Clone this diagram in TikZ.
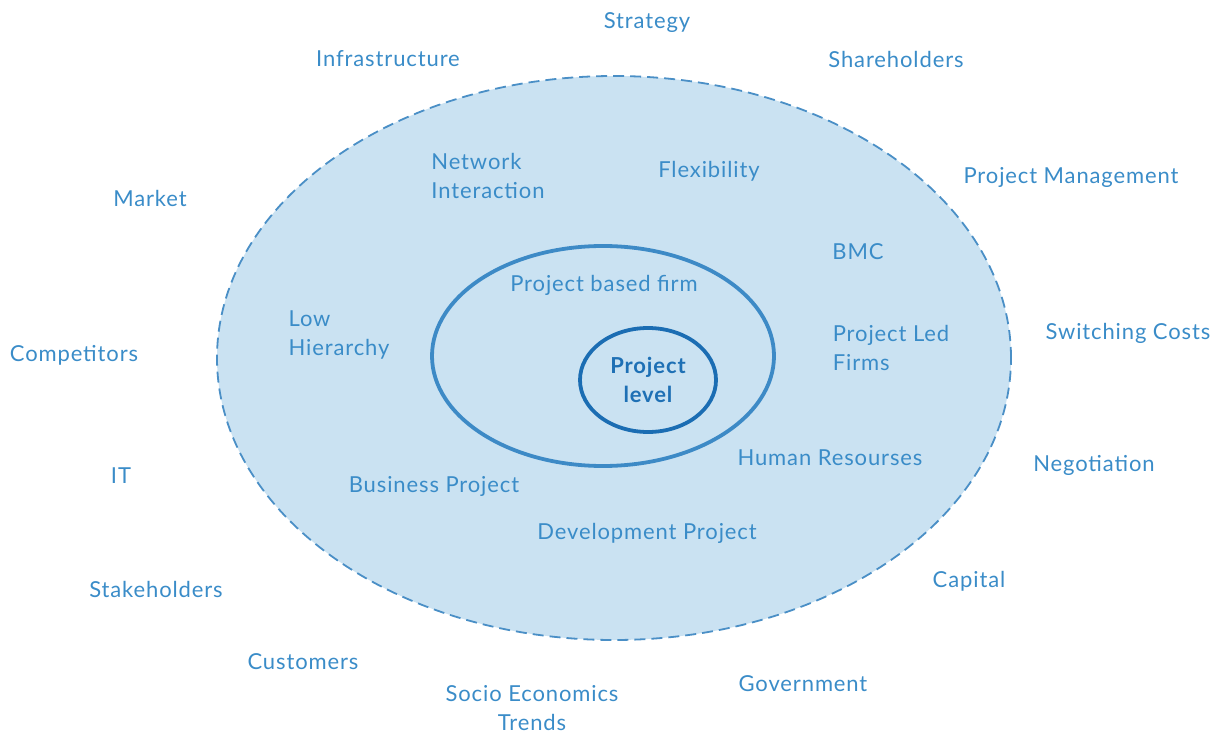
\documentclass[tikz,border=0pt]{standalone}
\usepackage{fontspec}
\usetikzlibrary{shapes.geometric}
\setmainfont{Lato}[LetterSpace=4]
\definecolor{txt}{HTML}{3A8CC8}
\definecolor{fillb}{HTML}{CAE2F2}
\definecolor{dashc}{HTML}{4A8FC6}
\definecolor{midc}{HTML}{3D8AC6}
\definecolor{innc}{HTML}{1B6DB3}
\begin{document}
\begin{tikzpicture}[x=1pt,y=-1pt,
  lbl/.style={text=txt,font=\fontsize{22}{29}\selectfont,inner sep=0pt},
  lbll/.style={lbl,align=left},
  lblc/.style={lbl,align=center}]
\useasboundingbox (0,0) rectangle (1226,735);
\node[draw=dashc,fill=fillb,dash pattern=on 11pt off 6pt,line width=1.8pt,ellipse,minimum width=794pt,minimum height=564pt,inner sep=0pt] (outer) at (614,358) {};
\node[draw=midc,line width=3.8pt,ellipse,minimum width=342pt,minimum height=220pt,inner sep=0pt] (mid) at (603,356) {};
\node[draw=innc,line width=3.8pt,ellipse,minimum width=136pt,minimum height=104pt,inner sep=0pt] (inner) at (648,380) {};
\node[lblc,font=\fontsize{22}{29}\selectfont\bfseries,text=innc!90!txt] (pl) at (648,380) {Project\\level};
\node[lbl] (pbf) at (604,285) {Project based firm};
\node[lbl] (strategy) at (647,23) {Strategy};
\node[lbl] (infra) at (388,59) {Infrastructure};
\node[lbl] (share) at (896,59) {Shareholders};
\node[lbl] (market) at (150,198) {Market};
\node[lbl] (pm) at (1071,177) {Project Management};
\node[lbll] (net) at (488,176) {Network\\Interaction};
\node[lbl] (flex) at (709,171) {Flexibility};
\node[lbl] (bmc) at (858,252) {BMC};
\node[lbll] (low) at (339,335) {Low\\Hierarchy};
\node[lbl] (comp) at (74,355) {Competitors};
\node[lbll] (plf) at (891,348) {Project Led\\Firms};
\node[lbl] (switch) at (1128,333) {Switching Costs};
\node[lbl] (it) at (121,476) {IT};
\node[lbl] (hr) at (830,458) {Human Resourses};
\node[lbl] (neg) at (1094,465) {Negotiation};
\node[lbl] (bp) at (434,486) {Business Project};
\node[lbl] (dp) at (647,533) {Development Project};
\node[lbl] (stake) at (156,589) {Stakeholders};
\node[lbl] (cap) at (969,581) {Capital};
\node[lbl] (cust) at (303,662) {Customers};
\node[lbl] (gov) at (803,684) {Government};
\node[lblc] (socio) at (532,708) {Socio Economics\\Trends};
\end{tikzpicture}
\end{document}
